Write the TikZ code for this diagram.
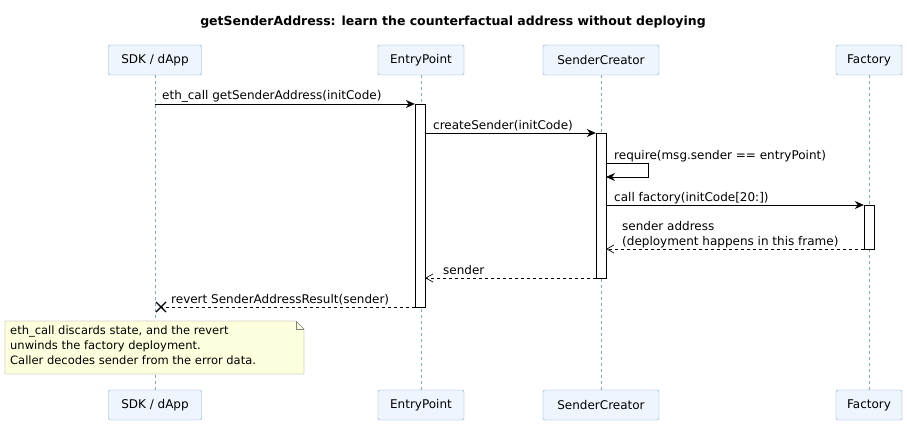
\documentclass[tikz,border=0pt]{standalone}
\usepackage{fontspec}
\setmainfont{DejaVu Sans}
\usetikzlibrary{arrows.meta}
\definecolor{pbox}{HTML}{EEF5FD}
\definecolor{pline}{HTML}{7EA4D8}
\definecolor{notefill}{HTML}{FEFFDD}
\begin{document}
\begin{tikzpicture}[x=1pt,y=-1pt,
  part/.style={draw=pline,fill=pbox,rounded corners=2pt,minimum height=30pt,font=\fontsize{12}{14}\selectfont,inner sep=0pt},
  life/.style={pline,dash pattern=on 3pt off 3pt},
  act/.style={draw=black,fill=white},
  msg/.style={-{Stealth[length=9pt,width=8pt,inset=3pt]},line width=0.8pt},
  rmsg/.style={-{Straight Barb[length=7pt,width=8pt]},line width=0.7pt,dashed},
  lbl/.style={font=\fontsize{12}{14}\selectfont,inner sep=0pt,anchor=base west}]
\useasboundingbox (0,0) rectangle (907,425);
\node[font=\bfseries\fontsize{12.5}{14}\selectfont] (title) at (453,22) {getSenderAddress: learn the counterfactual address without deploying};
\foreach \n/\x/\w/\t in {sdk/155/93/{SDK / dApp}, ep/421/86/EntryPoint, sc/601/116/SenderCreator, fac/869/66/Factory}{
  \node[part,minimum width=\w pt] (\n top) at (\x,60) {\t};
  \node[part,minimum width=\w pt] (\n bot) at (\x,405) {\t};
  \draw[life] (\n top.south) -- (\n bot.north);
}
\node[act,minimum width=10pt,minimum height=203pt,inner sep=0pt] (epa) at (420,205.5) {};
\node[act,minimum width=10pt,minimum height=145pt,inner sep=0pt] (sca) at (601,205.5) {};
\node[act,minimum width=10pt,minimum height=44pt,inner sep=0pt] (faca) at (869,227) {};
\coordinate (m1s) at (155,104);
\draw[msg] (m1s) -- (epa.west |- m1s);
\node[lbl] (l1) at (162,100) {eth\_call getSenderAddress(initCode)};
\coordinate (m2) at (425,133);
\draw[msg] (m2) -- (sca.west |- m2);
\node[lbl] (l2) at (433,129) {createSender(initCode)};
\coordinate (m3a) at (606,163);
\coordinate (m3b) at (648,163);
\coordinate (m3c) at (648,177);
\coordinate (m3d) at (606,177);
\draw[msg] (m3a) -- (m3b) -- (m3c) -- (m3d);
\node[lbl] (l3) at (614,159) {require(msg.sender == entryPoint)};
\coordinate (m4) at (606,205);
\draw[msg] (m4) -- (faca.west |- m4);
\node[lbl] (l4) at (614,201) {call factory(initCode[20:])};
\coordinate (m5) at (864,249);
\draw[rmsg] (m5) -- (sca.east |- m5);
\node[lbl] (l5a) at (622,230) {sender address};
\node[lbl] (l5b) at (622,245) {(deployment happens in this frame)};
\coordinate (m6) at (596,278);
\draw[rmsg] (m6) -- (epa.east |- m6);
\node[lbl] (l6) at (443,274) {sender};
\coordinate (m7) at (415,307);
\coordinate (x7) at (161,307);
\draw[line width=0.7pt,dashed] (m7) -- (x7);
\draw[line width=1.4pt] (156,302) -- (166,312) (156,312) -- (166,302);
\node[lbl] (l7) at (171,303) {revert SenderAddressResult(sender)};
\draw[fill=notefill,draw=black!50] (5,321) -- (296,321) -- (304,329) -- (304,374) -- (5,374) -- cycle;
\draw[draw=black!50] (296,321) -- (296,329) -- (304,329);
\node[font=\fontsize{11.5}{15}\selectfont,align=left,anchor=north west,inner sep=0pt] (note) at (10,326) {eth\_call discards state, and the revert\\unwinds the factory deployment.\\Caller decodes sender from the error data.};
\end{tikzpicture}
\end{document}
